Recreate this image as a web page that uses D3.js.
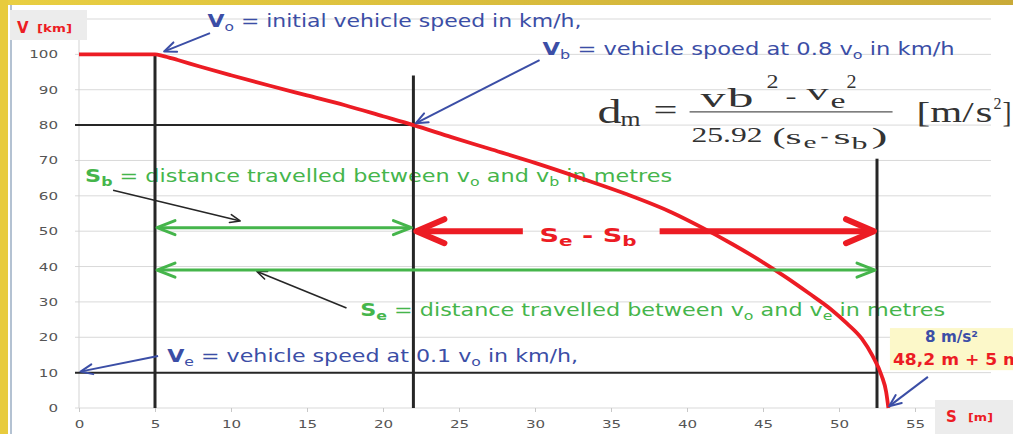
<!DOCTYPE html>
<html>
<head>
<meta charset="utf-8">
<script src="https://cdn.jsdelivr.net/npm/d3@7"></script>
<style>
  body { margin: 0; background: #fff; }
  svg { display: block; }
  text { white-space: pre; }
</style>
</head>
<body>
<div id="viz"></div>
<script>
// braking curve: distance s [m] against speed V [km/h]
const distS  = [0, 5, 5.5, 6.5, 8, 10, 12.5, 15, 17.5, 20, 22, 24.5, 27, 30, 33, 36, 39, 41, 43, 45, 46.5, 48, 49.5, 50.5, 51.5, 52.2, 52.8, 53.1, 53.25];
const speedV = [100, 100, 99.6, 98.4, 96.5, 94.1, 91.2, 88.4, 85.6, 82.5, 80, 76.6, 73.3, 69.3, 65, 60.5, 55.3, 51, 46.3, 41.2, 37, 32.5, 27.8, 24, 19.6, 14.8, 9.2, 4.6, 0];

const yTickVals = [0, 10, 20, 30, 40, 50, 60, 70, 80, 90, 100];
const yGridVals = [0, 10, 20, 30, 40, 50, 60, 70, 80, 90, 100, 110];
const xTickVals = [0, 5, 10, 15, 20, 25, 30, 35, 40, 45, 50, 55];

// marker points: start of braking, vb point, ve point
const markS = [5, 22, 52.5];
const markV = [100, 80, 10];
const markTopV = [100, 94, 70.5];   // where the vertical black lines start

const W = 1013, H = 434;
const blue = "#3b4ea6", green = "#45b54b", red = "#ec1c24", dark = "#262626";

let x = d3.scaleLinear().domain([0, 60]).range([79, 991]);
let y = d3.scaleLinear().domain([0, 110]).range([408, 19]);

let svg = d3.select("#viz").append("svg").attr("width", W).attr("height", H);

// frame
let grad = svg.append("defs").append("linearGradient").attr("id", "topband");
grad.append("stop").attr("offset", "0%").attr("stop-color", "#e9cf42");
grad.append("stop").attr("offset", "100%").attr("stop-color", "#c9aa38");
svg.append("rect").attr("width", W).attr("height", H).attr("fill", "#fff");
svg.append("rect").attr("width", W).attr("height", 5).attr("fill", "url(#topband)");
svg.append("rect").attr("width", 8).attr("height", H).attr("fill", "#e8cb3d");
svg.append("line").attr("x1", 11).attr("x2", 11).attr("y1", 5).attr("y2", H)
  .attr("stroke", "#b4c2d2").attr("stroke-width", 2);

// grid
svg.append("g").selectAll("line").data(yGridVals).join("line")
  .attr("x1", x(0) - 4).attr("x2", x(60))
  .attr("y1", d => y(d)).attr("y2", d => y(d))
  .attr("stroke", "#d9d9d9").attr("stroke-width", 1);
svg.append("line").attr("x1", x(0)).attr("x2", x(0)).attr("y1", y(110)).attr("y2", y(0))
  .attr("stroke", "#d3d3d3");

// axes
let xAxis = svg.append("g").attr("transform", `translate(0,${y(0)})`)
  .call(d3.axisBottom(x).tickValues(xTickVals).tickSize(4).tickPadding(8));
let yAxis = svg.append("g").attr("transform", `translate(${x(0) - 4},0)`)
  .call(d3.axisLeft(y).tickValues(yTickVals).tickSize(0).tickPadding(17));
[xAxis, yAxis].forEach(a => {
  a.select(".domain").remove();
  a.selectAll(".tick line").attr("stroke", "#c8c8c8");
  a.selectAll("text")
    .attr("font-family", "DejaVu Sans").attr("font-size", 11).attr("fill", "#555")
    .attr("textLength", d => String(d).length * 9.6).attr("lengthAdjust", "spacingAndGlyphs");
});

// helpers
function label(g, sx, vy, parts, o) {
  let t = g.append("text").attr("x", x(sx)).attr("y", y(vy))
    .attr("font-family", o.font || "DejaVu Sans").attr("font-size", o.size)
    .attr("fill", o.color).attr("font-weight", o.bold ? "bold" : null);
  if (o.len) t.attr("textLength", o.len).attr("lengthAdjust", "spacingAndGlyphs");
  let cur = 0;
  parts.forEach(p => {
    let dy = (p.dy || 0) - cur;
    cur = p.dy || 0;
    t.append("tspan").attr("dy", dy)
      .attr("font-weight", p.b ? "bold" : null)
      .attr("font-size", p.s || null)
      .text(p.t);
  });
  return t;
}

function arrow(g, x1, y1, x2, y2, o) {
  let ang = Math.atan2(y2 - y1, x2 - x1);
  let ux = Math.cos(ang), uy = Math.sin(ang);
  let heads = o.both ? [[x2, y2, -1], [x1, y1, 1]] : [[x2, y2, -1]];
  let sx = o.both ? x1 + ux * o.w * 0.5 : x1;
  let sy = o.both ? y1 + uy * o.w * 0.5 : y1;
  g.append("line")
    .attr("x1", sx).attr("y1", sy)
    .attr("x2", x2 - ux * o.w * 0.5).attr("y2", y2 - uy * o.w * 0.5)
    .attr("stroke", o.color).attr("stroke-width", o.w).attr("stroke-linecap", "butt");
  heads.forEach(([hx, hy, dir]) => {
    let bx = ux * dir, by = uy * dir, px = -by, py = bx;
    let pts = [
      [hx + bx * o.len + px * o.spread, hy + by * o.len + py * o.spread],
      [hx, hy],
      [hx + bx * o.len - px * o.spread, hy + by * o.len - py * o.spread]
    ];
    g.append("polyline").attr("points", pts.map(p => p.join(",")).join(" "))
      .attr("fill", "none").attr("stroke", o.color).attr("stroke-width", o.w)
      .attr("stroke-linecap", "round").attr("stroke-linejoin", "round");
  });
}

// annotation texts (drawn below the lines, as in the original)
let notes = svg.append("g");
label(notes, 8.45, 107.6, [{t: "V", b: 1}, {t: "o", s: 12, dy: 4}, {t: " = initial vehicle speed in km/h,"}],
  {size: 17, color: blue, len: 374});
label(notes, 30.5, 99.8, [{t: "V", b: 1}, {t: "b", s: 12, dy: 4}, {t: " = vehicle spoed at 0.8 v"}, {t: "o", s: 12, dy: 4}, {t: " in km/h"}],
  {size: 17, color: blue, len: 412});
label(notes, 0.4, 63.9, [{t: "S", b: 1}, {t: "b", b: 1, s: 12, dy: 4}, {t: " = distance travelled between v"}, {t: "o", s: 12, dy: 4}, {t: " and v"}, {t: "b", s: 12, dy: 4}, {t: " in metres"}],
  {size: 17, color: green, len: 587});
label(notes, 18.5, 26, [{t: "S", b: 1}, {t: "e", b: 1, s: 12, dy: 4}, {t: " = distance travelled between v"}, {t: "o", s: 12, dy: 4}, {t: " and v"}, {t: "e", s: 12, dy: 4}, {t: " in metres"}],
  {size: 17, color: green, len: 585});
label(notes, 5.8, 13, [{t: "V", b: 1}, {t: "e", s: 12, dy: 4}, {t: " = vehicle speed at 0.1 v"}, {t: "o", s: 12, dy: 4}, {t: " in km/h,"}],
  {size: 17, color: blue, len: 411});
label(notes, 30.3, 46.9, [{t: "S"}, {t: "e", s: 14, dy: 4}, {t: " - S"}, {t: "b", s: 14, dy: 4}],
  {size: 19, color: red, bold: true, len: 97});

// formula dm = (vb² - ve²) / (25.92 (se - sb)) [m/s²]
const formula = [
  ["d", 1, 0, 34, 24], ["m", 24, 3, 22, 20], ["=", 57, -2.5, 30, 24],
  ["v", 104, -16, 27, 25], ["b", 131, -16, 28, 26], ["2", 170, -35, 19, 12],
  ["-", 189, -20, 22, 11], ["v", 210, -23, 24, 22], ["e", 234, -15, 21, 15], ["2", 250, -35, 19, 10],
  ["25.92", 95, 19, 22, 71], ["(", 176, 21, 24, 13], ["s", 189, 21, 22, 16], ["e", 207, 25, 17, 13],
  ["-", 224, 19, 18, 8], ["s", 237, 21, 22, 17], ["b", 255, 26, 17, 16], [")", 275, 21, 24, 16],
  ["[m/", 320, -1, 30, 57], ["s", 379, -1, 30, 17], ["2", 397, -14, 17, 8], ["]", 406, -1, 30, 9]
];
let fg = svg.append("g").attr("transform", `translate(${x(34.05)},${y(80.6)})`);
fg.selectAll("text").data(formula).join("text")
  .attr("x", d => d[1]).attr("y", d => d[2])
  .attr("font-family", "Liberation Serif").attr("font-size", d => d[3]).attr("fill", "#333")
  .attr("textLength", d => d[4]).attr("lengthAdjust", "spacingAndGlyphs")
  .text(d => d[0]);
fg.append("line").attr("x1", 93).attr("x2", 296).attr("y1", -11).attr("y2", -11)
  .attr("stroke", "#555").attr("stroke-width", 1.3);

// black marker lines
let marks = svg.append("g");
markS.forEach((s, i) => {
  marks.append("line").attr("x1", x(s)).attr("x2", x(s))
    .attr("y1", y(markTopV[i])).attr("y2", y(0))
    .attr("stroke", dark).attr("stroke-width", 3);
});
[1, 2].forEach(i => {
  marks.append("line").attr("x1", x(0) - 4).attr("x2", x(markS[i]))
    .attr("y1", y(markV[i])).attr("y2", y(markV[i]))
    .attr("stroke", dark).attr("stroke-width", 2);
});

// speed curve
let curve = d3.line().x(d => x(d[0])).y(d => y(d[1])).curve(d3.curveMonotoneX);
svg.append("path").datum(distS.map((s, i) => [s, speedV[i]]))
  .attr("d", curve).attr("fill", "none")
  .attr("stroke", red).attr("stroke-width", 3.8).attr("stroke-linejoin", "round");

// arrows
let ar = svg.append("g");
const blueA = {color: blue, w: 2, len: 12, spread: 5};
const blackA = {color: dark, w: 1.6, len: 10, spread: 4};
arrow(ar, x(8.62), y(106), x(5.6), y(100.8), blueA);
arrow(ar, x(30.3), y(98.4), x(22.15), y(80.5), blueA);
arrow(ar, x(5.2), y(14.7), x(0.1), y(10.3), blueA);
arrow(ar, x(55.85), y(8.8), x(53.3), y(0.5), blueA);
arrow(ar, x(2.24), y(61.6), x(10.6), y(52.9), blackA);
arrow(ar, x(17.6), y(28.3), x(11.7), y(38.6), blackA);
arrow(ar, x(markS[0]) + 2, y(51), x(markS[1]) - 2, y(51), {color: green, w: 3, len: 18, spread: 7, both: true});
arrow(ar, x(markS[0]) + 2, y(39), x(markS[2]) - 2, y(39), {color: green, w: 3, len: 18, spread: 7, both: true});
arrow(ar, x(29.2), y(50), x(markS[1]) + 3, y(50), {color: red, w: 6, len: 28, spread: 12});
arrow(ar, x(38.2), y(50), x(markS[2]) - 3, y(50), {color: red, w: 6, len: 28, spread: 12});

// result box
let box = svg.append("g");
box.append("rect").attr("x", x(53.35)).attr("y", y(22.6))
  .attr("width", W - x(53.35)).attr("height", y(10.7) - y(22.6)).attr("fill", "#fcf8c9");
label(box, 55.66, 18.7, [{t: "8 m/s²"}], {size: 15, color: blue, bold: true, len: 53});
label(box, 53.55, 12.2, [{t: "48,2 m + 5 m"}], {size: 15, color: red, bold: true, len: 128});

// axis title boxes
svg.append("rect").attr("x", 10).attr("y", 10).attr("width", 77).attr("height", 30).attr("fill", "#ececec");
svg.append("text").attr("x", 17).attr("y", 33).attr("font-family", "DejaVu Sans").attr("font-weight", "bold")
  .attr("font-size", 15).attr("fill", red).text("V");
svg.append("text").attr("x", 37).attr("y", 32).attr("font-family", "DejaVu Sans").attr("font-weight", "bold")
  .attr("font-size", 11).attr("fill", red).attr("textLength", 35).attr("lengthAdjust", "spacingAndGlyphs").text("[km]");
svg.append("rect").attr("x", 935).attr("y", 400).attr("width", W - 935).attr("height", H - 400).attr("fill", "#ececec");
svg.append("text").attr("x", 946).attr("y", 422).attr("font-family", "DejaVu Sans").attr("font-weight", "bold")
  .attr("font-size", 15).attr("fill", red).text("S");
svg.append("text").attr("x", 968).attr("y", 421).attr("font-family", "DejaVu Sans").attr("font-weight", "bold")
  .attr("font-size", 11).attr("fill", red).attr("textLength", 25).attr("lengthAdjust", "spacingAndGlyphs").text("[m]");
</script>
</body>
</html>
